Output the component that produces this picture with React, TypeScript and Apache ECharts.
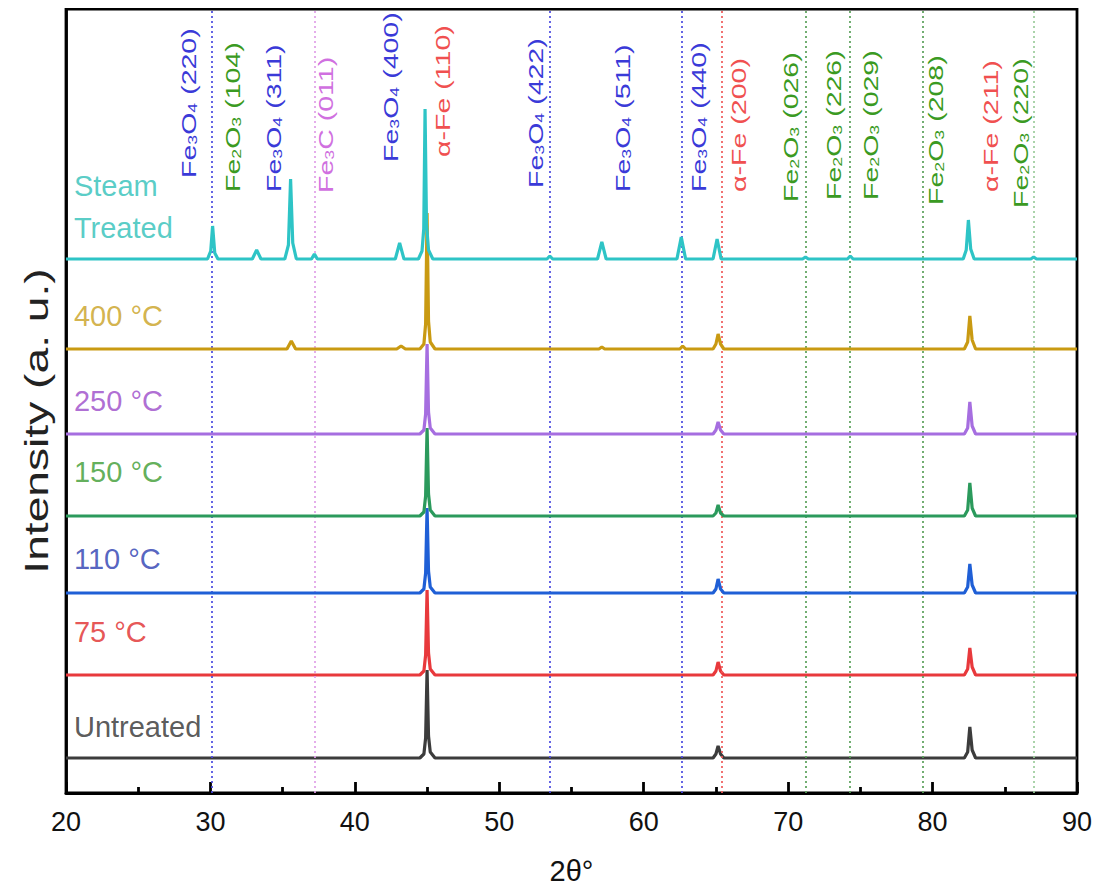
import React, { useEffect, useRef } from "react";
import * as echarts from "echarts";

// ---- data (2θ, intensity above each trace's baseline) ----
const untreated = [[20,0],[44.5,0],[44.78,4],[44.9,20],[45.0,88],[45.1,22],[45.22,6],[45.55,0],[64.8,0],[65.0,4],[65.15,12],[65.32,4],[65.55,0],[82.2,0],[82.43,6],[82.58,31],[82.74,8],[82.98,0],[90,0]];
const t75 = [[20,0],[44.5,0],[44.78,4],[44.9,20],[45.0,85],[45.1,22],[45.22,6],[45.55,0],[64.8,0],[65.0,4],[65.15,13],[65.32,4],[65.55,0],[82.2,0],[82.43,6],[82.58,27],[82.74,8],[82.98,0],[90,0]];
const t110 = [[20,0],[44.5,0],[44.78,4],[44.9,20],[45.0,85],[45.1,22],[45.22,6],[45.55,0],[64.8,0],[65.0,4],[65.15,14],[65.32,4],[65.55,0],[82.2,0],[82.43,6],[82.58,29],[82.74,8],[82.98,0],[90,0]];
const t150 = [[20,0],[44.5,0],[44.78,4],[44.9,20],[45.0,88],[45.1,22],[45.22,6],[45.55,0],[64.8,0],[65.0,3],[65.15,11],[65.32,3],[65.55,0],[82.2,0],[82.43,6],[82.58,33],[82.74,8],[82.98,0],[90,0]];
const t250 = [[20,0],[44.5,0],[44.78,4],[44.9,20],[45.0,90],[45.1,22],[45.22,6],[45.55,0],[64.8,0],[65.0,4],[65.15,12],[65.32,4],[65.55,0],[82.2,0],[82.43,6],[82.58,32],[82.74,8],[82.98,0],[90,0]];
const t400 = [[20,0],[35.3,0],[35.6,8],[35.9,0],[42.9,0],[43.2,3],[43.5,0],[44.5,0],[44.78,5],[44.9,25],[45.0,136],[45.1,28],[45.22,7],[45.55,0],[56.9,0],[57.1,2],[57.3,0],[62.5,0],[62.7,3],[62.9,0],[64.8,0],[65.0,5],[65.15,15],[65.32,5],[65.55,0],[82.2,0],[82.43,7],[82.58,33],[82.74,9],[82.98,0],[90,0]];
const steam = [[20,0],[29.8,0],[30.02,8],[30.15,33],[30.3,6],[30.52,0],[32.9,0],[33.2,9],[33.5,0],[35.15,0],[35.4,14],[35.55,80],[35.7,16],[35.95,0],[37.0,0],[37.2,5],[37.4,0],[42.8,0],[43.1,16],[43.4,0],[44.4,0],[44.65,8],[44.77,30],[44.86,150],[44.96,35],[45.1,9],[45.4,0],[53.3,0],[53.5,3],[53.7,0],[56.8,0],[57.1,17],[57.4,0],[62.3,0],[62.6,22],[62.9,0],[64.8,0],[65.08,20],[65.36,0],[71.0,0],[71.2,2],[71.4,0],[74.1,0],[74.3,3],[74.5,0],[82.12,0],[82.33,9],[82.48,39],[82.64,10],[82.88,0],[86.8,0],[87.0,2],[87.2,0],[90,0]];

const traceNames = ["Untreated", "75 °C", "110 °C", "150 °C", "250 °C", "400 °C", "Steam Treated"];
const traceData = [untreated, t75, t110, t150, t250, t400, steam];
const traceOffsets = [35, 118, 200, 277, 359, 444, 534];
const traceColors = ["#3c3c3c", "#e8393c", "#1f5fd6", "#2b9a5c", "#a66ee0", "#c99a12", "#2ec4c6"];

// sample labels at the left
const sampleLabels = ["Untreated", "75 °C", "110 °C", "150 °C", "250 °C", "400 °C", "Steam\nTreated"];
const sampleLabelY = [66, 161, 234, 321, 392, 477, 586];
const sampleLabelColors = ["#303030", "#e02a2a", "#2a3cb0", "#3a9a30", "#9a48c8", "#c8a020", "#2ebfb8"];

// reference (dotted) lines
const refLines = [30.1, 37.2, 53.5, 62.6, 65.4, 71.2, 74.3, 79.3, 87.0];
const refLineColors = ["#4a4ae0", "#e0a0e8", "#4a4ae0", "#4a4ae0", "#f05a5a", "#5aa05a", "#5aa05a", "#5aa05a", "#9ccc9c"];

// phase labels: [phase, sub1, sub2, hkl]
const phaseText = [
  ["Fe", "3", "4", "(220)"], ["Fe", "2", "3", "(104)"], ["Fe", "3", "4", "(311)"], ["Fe", "3", "", "(011)"],
  ["Fe", "3", "4", "(400)"], ["α-Fe", "", "", "(110)"], ["Fe", "3", "4", "(422)"], ["Fe", "3", "4", "(511)"],
  ["Fe", "3", "4", "(440)"], ["α-Fe", "", "", "(200)"], ["Fe", "2", "3", "(026)"], ["Fe", "2", "3", "(226)"],
  ["Fe", "2", "3", "(029)"], ["Fe", "2", "3", "(208)"], ["α-Fe", "", "", "(211)"], ["Fe", "2", "3", "(220)"],
];
const phaseKind = ["O4", "O3", "O4", "C", "O4", "Fe", "O4", "O4", "O4", "Fe", "O3", "O3", "O3", "O3", "Fe", "O3"];
const phaseX = [28.45, 31.5, 34.33, 37.94, 42.44, 46.1, 52.48, 58.5, 63.77, 66.54, 70.14, 73.12, 75.68, 80.18, 84.0, 86.07];
const phaseY = [615, 601, 601, 600, 631, 636, 605, 601, 601, 601, 591, 593, 593, 588, 601, 585];
const kindColor: Record<string, string> = { O4: "#3a3ad8", O3: "#3a9a22", C: "#d070e0", Fe: "#f05050" };

const xTicks = [20, 30, 40, 50, 60, 70, 80, 90];
const yTitle = "Intensity (a. u.)";

export default function App() {
  const ref = useRef<HTMLDivElement>(null);
  useEffect(() => {
    if (!ref.current) return;
    const chart = echarts.init(ref.current, undefined, { renderer: "svg" });
    const FONT = "Liberation Sans, Arial, sans-serif";

    const series: any[] = [];
    series.push({
      type: "line",
      data: [],
      z: 1,
      markLine: {
        silent: true,
        symbol: "none",
        label: { show: false },
        animation: false,
        data: refLines.map((x, i) => ({
          xAxis: x,
          lineStyle: { color: refLineColors[i], type: [2, 3], width: 1.7 },
        })),
      },
    });
    traceData.forEach((d, i) => {
      series.push({
        type: "line",
        name: traceNames[i],
        data: d.map((p) => [p[0], p[1] + traceOffsets[i]]),
        showSymbol: false,
        symbol: "none",
        lineStyle: { color: traceColors[i], width: 3.2 },
        z: 3 + i,
        silent: true,
      });
    });
    series.push({
      type: "scatter",
      silent: true,
      z: 20,
      symbolSize: 1,
      itemStyle: { color: "rgba(0,0,0,0)" },
      data: sampleLabels.map((t, i) => ({
        value: [20.55, sampleLabelY[i]],
        label: {
          show: true,
          position: "inside",
          align: "left",
          verticalAlign: "middle",
          formatter: t,
          color: sampleLabelColors[i],
          fontSize: 29,
          lineHeight: 42,
          fontFamily: FONT,
        },
      })),
    });

    chart.setOption({
      animation: false,
      grid: { left: 66, right: 25, top: 9, bottom: 99, show: true, borderColor: "#000", borderWidth: 2.8 },
      xAxis: {
        type: "value",
        min: xTicks[0],
        max: xTicks[xTicks.length - 1],
        interval: 10,
        axisLine: { lineStyle: { color: "#000", width: 2.8 } },
        axisTick: { inside: true, length: 11, lineStyle: { color: "#000", width: 2.8 } },
        minorTick: { show: true, splitNumber: 2, length: 6, lineStyle: { color: "#000", width: 2.8 } },
        splitLine: { show: false },
        axisLabel: { fontSize: 27, color: "#111", margin: 15, fontFamily: FONT },
        name: "2θ°",
        nameLocation: "middle",
        nameGap: 63,
        nameTextStyle: { fontSize: 29, color: "#111", fontFamily: FONT },
      },
      yAxis: {
        type: "value",
        min: 0,
        max: 784,
        axisLine: { show: true, lineStyle: { color: "#000", width: 2.8 } },
        axisTick: { show: false },
        axisLabel: { show: false },
        splitLine: { show: false },
        name: "",
      },
      series,
    });

    const graphics: any[] = [];
    phaseText.forEach((p, i) => {
      const c = kindColor[phaseKind[i]];
      let f = "{n|" + p[0] + "}";
      if (p[1]) f += "{s|" + p[1] + "}";
      if (phaseKind[i] === "O4" || phaseKind[i] === "O3") f += "{n|O}";
      if (phaseKind[i] === "C") f += "{n|C}";
      if (p[2]) f += "{s|" + p[2] + "}";
      f += "{n| " + p[3] + "}";
      const [px, py] = chart.convertToPixel({ gridIndex: 0 }, [phaseX[i], phaseY[i]]) as number[];
      graphics.push({
        type: "text",
        x: px,
        y: py,
        rotation: Math.PI / 2,
        scaleX: 1.36,
        silent: true,
        z: 30,
        style: {
          text: f,
          align: "left",
          verticalAlign: "middle",
          rich: {
            n: { fontSize: 21, fill: c, fontFamily: FONT },
            s: { fontSize: 13, fill: c, fontFamily: FONT, padding: [9, 0, 0, 0] },
          },
        },
      });
    });
    const [, cy] = chart.convertToPixel({ gridIndex: 0 }, [20, 372]) as number[];
    graphics.push({
      type: "text",
      x: 37,
      y: cy,
      rotation: Math.PI / 2,
      scaleX: 1.4,
      silent: true,
      style: {
        text: yTitle,
        align: "center",
        verticalAlign: "middle",
        fill: "#222",
        fontSize: 33,
        fontFamily: FONT,
      },
    });
    chart.setOption({ graphic: graphics });
    return () => chart.dispose();
  }, []);
  return <div ref={ref} style={{ width: 1102, height: 892, margin: -8 }} />;
}
